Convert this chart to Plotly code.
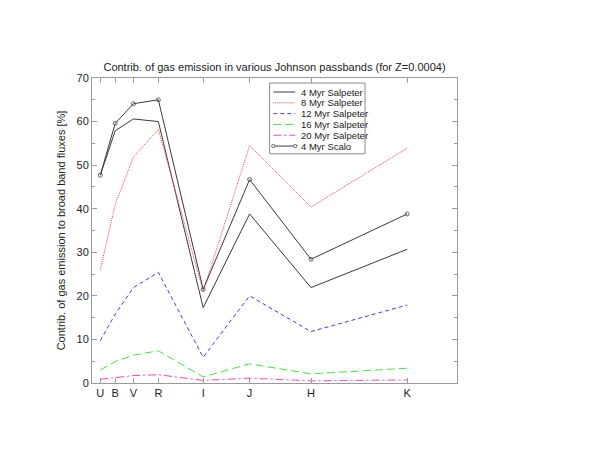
import plotly.graph_objects as go

# Johnson passbands and the effective wavelengths (A) they are plotted at
bands = ["U", "B", "V", "R", "I", "J", "H", "K"]
wavelengths = [3500, 4400, 5500, 7000, 9700, 12500, 16200, 22000]

# contribution of gas emission [%] per passband
salp_4myr = [47.7, 57.9, 60.6, 60.0, 17.3, 38.8, 21.9, 30.7]
salp_8myr = [26.0, 41.0, 51.9, 58.2, 21.0, 54.5, 40.4, 53.9]
salp_12myr = [9.7, 15.8, 21.9, 25.4, 5.9, 20.0, 11.8, 17.9]
salp_16myr = [3.0, 4.9, 6.4, 7.4, 1.4, 4.4, 2.1, 3.4]
salp_20myr = [0.85, 1.3, 1.7, 1.9, 0.6, 1.1, 0.5, 0.7]
scalo_4myr = [47.7, 59.6, 64.1, 65.0, 21.5, 46.7, 28.4, 38.8]

series = [
    ("4 Myr Salpeter", salp_4myr, "#3a3a3a", "solid", False),
    ("8 Myr Salpeter", salp_8myr, "#ff4040", "1px,1px", False),
    ("12 Myr Salpeter", salp_12myr, "#3c3cff", "4px,3px", False),
    ("16 Myr Salpeter", salp_16myr, "#3ee83e", "8px,4px", False),
    ("20 Myr Salpeter", salp_20myr, "#ff40d0", "8px,3px,2px,3px", False),
    ("4 Myr Scalo", scalo_4myr, "#3a3a3a", "solid", True),
]

fig = go.Figure()

for name, vals, color, dash, markers in series:
    fig.add_trace(go.Scatter(
        x=wavelengths, y=vals, name=name,
        mode="lines+markers" if markers else "lines",
        line=dict(color=color, width=1, dash=dash),
        marker=dict(symbol="circle-open", size=4, color="#666666", line=dict(width=1)),
        showlegend=False,
    ))

# hand-built gnuplot style legend box
lx0, lx1, ly0, ly1 = 0.4866, 0.748, 0.7516, 0.9836
fig.add_shape(type="rect", xref="paper", yref="paper", x0=lx0, x1=lx1, y0=ly0, y1=ly1,
              line=dict(color="#8a8a8a", width=1), fillcolor="white")
for i, (name, vals, color, dash, markers) in enumerate(series):
    yy = (383 - (92.3 + i * 10.8)) / 304.7
    fig.add_shape(type="line", xref="paper", yref="paper", x0=0.4967, x1=0.557, y0=yy, y1=yy,
                  line=dict(color=color, width=1, dash=dash))
    if markers:
        for xm in (0.4967, 0.557):
            fig.add_shape(type="circle", xref="paper", yref="paper",
                          x0=xm - 0.0045, x1=xm + 0.0045, y0=yy - 0.0055, y1=yy + 0.0055,
                          line=dict(color="#666666", width=1), fillcolor="white")
    fig.add_annotation(xref="paper", yref="paper", x=0.568, y=yy, text=name,
                       showarrow=False, xanchor="left", yanchor="middle",
                       font=dict(size=9.5, color="#222222"))

axis_style = dict(
    showline=True, linecolor="#9a9a9a", linewidth=1, mirror="allticks",
    ticks="inside", tickcolor="#9a9a9a", ticklen=5, showgrid=False, zeroline=False,
    tickfont=dict(size=11, color="#222222"),
)

fig.update_xaxes(range=[3000, 25000], tickvals=wavelengths, ticktext=bands,
                 ticklabelstandoff=0, **axis_style)
fig.update_yaxes(range=[0, 70], dtick=10, ticklabelstandoff=0,
                 minor=dict(ticks="inside", dtick=5, ticklen=3, tickcolor="#9a9a9a"),
                 title=dict(text="Contrib. of gas emission to broad band fluxes [%]",
                            font=dict(size=11, color="#222222"), standoff=8),
                 **axis_style)

fig.update_layout(
    width=598, height=462,
    margin=dict(l=84, r=149, t=70, b=87),
    paper_bgcolor="white", plot_bgcolor="white",
    font=dict(family="Liberation Sans, Arial, sans-serif", color="#222222"),
    title=dict(text="Contrib. of gas emission in various Johnson passbands (for Z=0.0004)",
               x=0.5, xref="paper", y=1 - 59 / 462, yanchor="middle",
               font=dict(size=11, color="#222222")),
)

fig.write_html("out.html")
